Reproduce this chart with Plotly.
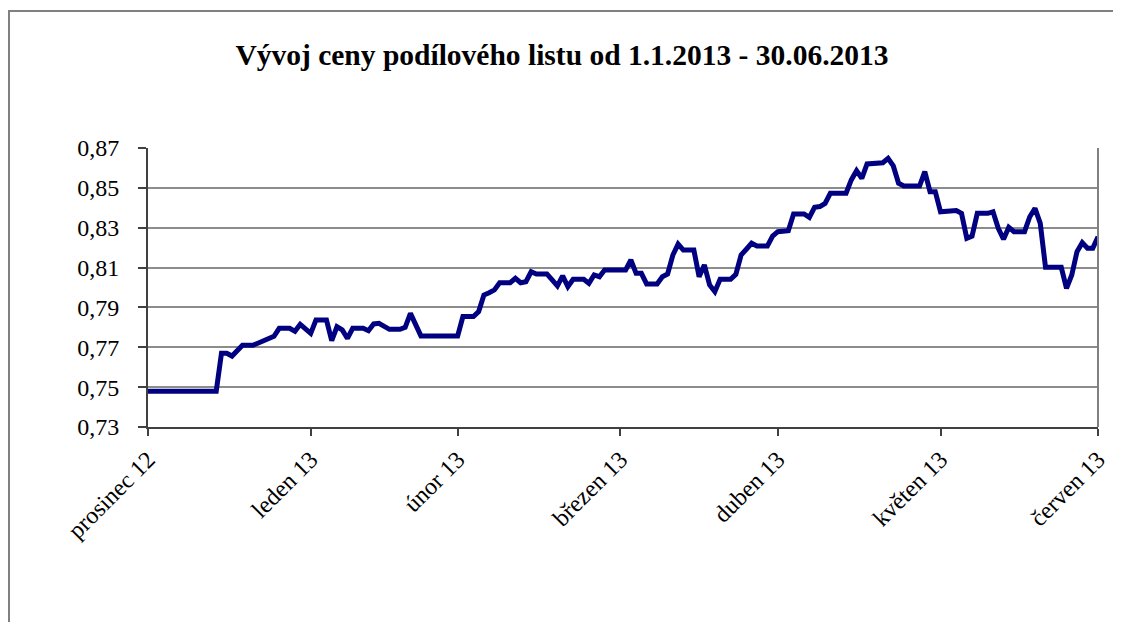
import plotly.graph_objects as go

# --- data ---------------------------------------------------------------
dates = [
    "2012-12-31", "2013-01-13", "2013-01-14", "2013-01-15", "2013-01-16", "2013-01-17",
    "2013-01-18", "2013-01-20", "2013-01-22", "2013-01-23", "2013-01-24", "2013-01-25",
    "2013-01-27", "2013-01-28", "2013-01-29", "2013-01-31",
    "2013-02-01", "2013-02-03", "2013-02-04", "2013-02-05", "2013-02-06", "2013-02-07",
    "2013-02-08", "2013-02-10", "2013-02-11", "2013-02-12", "2013-02-13", "2013-02-15",
    "2013-02-17", "2013-02-18", "2013-02-19", "2013-02-21", "2013-02-28",
    "2013-03-01", "2013-03-03", "2013-03-04", "2013-03-05", "2013-03-06", "2013-03-07",
    "2013-03-08", "2013-03-10", "2013-03-11", "2013-03-12", "2013-03-13", "2013-03-14",
    "2013-03-15", "2013-03-17", "2013-03-18", "2013-03-19", "2013-03-20", "2013-03-21",
    "2013-03-22", "2013-03-24", "2013-03-25", "2013-03-26", "2013-03-27", "2013-03-28",
    "2013-04-01", "2013-04-02", "2013-04-03", "2013-04-04", "2013-04-05", "2013-04-07",
    "2013-04-08", "2013-04-09", "2013-04-10", "2013-04-11", "2013-04-12", "2013-04-14",
    "2013-04-15", "2013-04-16", "2013-04-17", "2013-04-18", "2013-04-19", "2013-04-21",
    "2013-04-22", "2013-04-23", "2013-04-24", "2013-04-25", "2013-04-26", "2013-04-28",
    "2013-04-29", "2013-04-30",
    "2013-05-02", "2013-05-03", "2013-05-05", "2013-05-06", "2013-05-07", "2013-05-08",
    "2013-05-09", "2013-05-10", "2013-05-13", "2013-05-14", "2013-05-15", "2013-05-16",
    "2013-05-17", "2013-05-19", "2013-05-20", "2013-05-21", "2013-05-22", "2013-05-23",
    "2013-05-24", "2013-05-27", "2013-05-28", "2013-05-29", "2013-05-30", "2013-05-31",
    "2013-06-02", "2013-06-03", "2013-06-04", "2013-06-05", "2013-06-06", "2013-06-07",
    "2013-06-09", "2013-06-10", "2013-06-11", "2013-06-12", "2013-06-13", "2013-06-14",
    "2013-06-16", "2013-06-17", "2013-06-18", "2013-06-19", "2013-06-20", "2013-06-23",
    "2013-06-24", "2013-06-25", "2013-06-26", "2013-06-27", "2013-06-28", "2013-06-29",
    "2013-06-30",
]

prices = [
    0.748, 0.748, 0.767, 0.767, 0.7656, 0.7687,
    0.771, 0.771, 0.7732, 0.774, 0.7755, 0.7795,
    0.7795, 0.778, 0.7815, 0.777,
    0.7837, 0.7837, 0.7733, 0.7803, 0.7787, 0.7745,
    0.7795, 0.7795, 0.7783, 0.7817, 0.782, 0.779,
    0.779, 0.780, 0.787, 0.7757, 0.7757,
    0.7854, 0.7854, 0.7879, 0.7962, 0.7974, 0.7988,
    0.8024, 0.8024, 0.8046, 0.8024, 0.8029, 0.8079,
    0.8068, 0.8068, 0.8038, 0.8008, 0.8058, 0.8004,
    0.8041, 0.8041, 0.8021, 0.8063, 0.8054, 0.8088,
    0.8088, 0.8138, 0.8071, 0.8071, 0.8018, 0.8018,
    0.8054, 0.8068, 0.8163, 0.8218, 0.8188, 0.8188,
    0.8054, 0.8113, 0.8013, 0.7979, 0.8041, 0.8041,
    0.8066, 0.8163, 0.8192, 0.8222, 0.8208, 0.8208,
    0.8258, 0.828,
    0.8285, 0.8369, 0.8369, 0.8352, 0.8402, 0.8406,
    0.8422, 0.8473, 0.8473, 0.854, 0.8586, 0.8548,
    0.862, 0.862, 0.8626, 0.8648, 0.861, 0.8523,
    0.8509, 0.8509, 0.8581, 0.8481, 0.8481, 0.838,
    0.838, 0.8386, 0.8372, 0.8247, 0.8258, 0.8372,
    0.8372, 0.838, 0.8297, 0.8242, 0.8302, 0.828,
    0.828, 0.8355, 0.8397, 0.8322, 0.8101, 0.8101,
    0.7996, 0.8063, 0.818, 0.8225, 0.8197, 0.8197,
    0.8255,
]

tick_dates = ["2012-12-31", "2013-01-31", "2013-02-28", "2013-03-31",
              "2013-04-30", "2013-05-31", "2013-06-30"]
tick_labels = ["prosinec 12", "leden 13", "únor 13", "březen 13",
               "duben 13", "květen 13", "červen 13"]
y_ticks = [0.73, 0.75, 0.77, 0.79, 0.81, 0.83, 0.85, 0.87]

title_text = "Vývoj ceny podílového listu od 1.1.2013 - 30.06.2013"

# --- figure -------------------------------------------------------------
# the page body has an 8px margin, so the figure is placed at (8, 8)
OFF = 8
W, H = 1121 - 2 * OFF, 630 - 2 * OFF
ML, MT = 148 - OFF, 148 - OFF
MR = W - (1098 - OFF)
MB = H - (427 - OFF)
PW, PH = W - ML - MR, H - MT - MB

SERIF = "Liberation Serif, Times New Roman, serif"

fig = go.Figure()
fig.add_trace(go.Scatter(
    x=dates, y=prices, mode="lines",
    line=dict(color="#000080", width=5),
    hoverinfo="x+y", showlegend=False,
))

def px_to_paper_x(px):
    return (px - OFF - ML) / PW

def px_to_paper_y(py):
    return (H - MB - (py - OFF)) / PH

shapes = [
    # outer chart frame (gray, only top + left fall inside the page)
    dict(type="rect", xref="paper", yref="paper",
         x0=px_to_paper_x(9), x1=px_to_paper_x(1160),
         y0=px_to_paper_y(680), y1=px_to_paper_y(11),
         line=dict(color="#808080", width=2), fillcolor="rgba(0,0,0,0)", layer="below"),
    # plot-area right border
    dict(type="line", xref="paper", yref="paper", x0=1, x1=1, y0=0, y1=1,
         line=dict(color="#808080", width=2)),
]

fig.update_layout(
    width=W, height=H,
    margin=dict(l=ML, r=MR, t=MT, b=MB, pad=0, autoexpand=False),
    paper_bgcolor="white", plot_bgcolor="white",
    separators=", ",
    font=dict(family=SERIF, size=24, color="black"),
    title=dict(text="<b>" + title_text + "</b>", x=(562 - OFF) / W, xref="container",
               xanchor="center", y=1 - (55 - OFF) / H, yref="container", yanchor="middle",
               font=dict(family=SERIF, size=29.5, color="black")),
    shapes=shapes,
    xaxis=dict(
        type="date", range=[tick_dates[0], tick_dates[-1]], automargin=False,
        tickmode="array", tickvals=tick_dates, ticktext=tick_labels,
        tickangle=-45, ticks="outside", ticklen=7, tickwidth=1.5, tickcolor="#404040",
        showgrid=False, showline=True, linecolor="#404040", linewidth=2,
        zeroline=False, tickfont=dict(family=SERIF, size=24, color="black"),
    ),
    yaxis=dict(
        range=[0.73, 0.87], tickmode="array", tickvals=y_ticks, tickformat=".2f",
        automargin=False, ticklabelstandoff=14,
        ticks="outside", ticklen=8, tickwidth=1.5, tickcolor="#404040",
        showgrid=True, gridcolor="#8c8c8c", gridwidth=2,
        showline=True, linecolor="#404040", linewidth=2,
        zeroline=False, tickfont=dict(family=SERIF, size=24, color="black"),
    ),
)

fig.write_html("out.html")
